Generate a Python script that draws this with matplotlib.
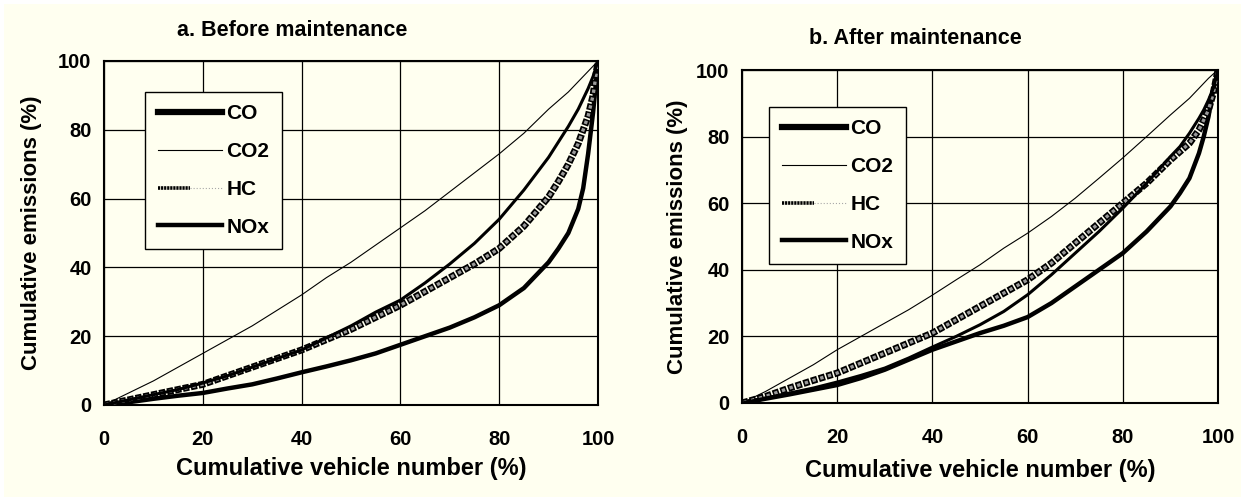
import matplotlib
matplotlib.use("Agg")
import matplotlib.pyplot as plt
from matplotlib.lines import Line2D
from matplotlib.legend_handler import HandlerTuple
from matplotlib.patches import Rectangle

plt.rcParams['font.family'] = ['Liberation Sans', 'DejaVu Sans']
plt.rcParams['font.weight'] = 'bold'
plt.rcParams['lines.scale_dashes'] = False

BG = '#fffff0'

# cumulative vehicle number (%)
x = [0, 5, 10, 15, 20, 25, 30, 35, 40, 45, 50, 55, 60, 65, 70, 75, 80, 85, 90,
     92, 94, 96, 97, 98, 99, 100]

# a. before maintenance - cumulative emissions (%)
co_before = [0, 0.8, 1.8, 2.7, 3.5, 4.8, 6, 7.7, 9.5, 11.2, 13, 15, 17.5, 20, 22.5,
             25.5, 29, 34, 41.5, 45.5, 50, 57, 63, 73, 85, 100]
co2_before = [0, 3.5, 7, 11, 15, 19, 23, 27.5, 32, 37, 41.5, 46.5, 51.5, 56.5, 62,
              67.5, 73, 79, 86, 88.5, 91, 94, 95.5, 97, 98.5, 100]
hc_before = [0, 1.5, 3, 4.5, 6, 8.5, 11, 13.5, 16, 19, 22, 25.5, 29, 33, 37, 41,
             45.5, 52, 60.5, 65, 70, 76, 80, 84, 90, 100]
nox_before = [0, 1.5, 3, 4.5, 6.4, 8.5, 11, 13.5, 16, 19.5, 23, 27, 30.5, 35.5, 41,
              47, 54, 62.5, 72, 76.5, 81, 86, 89, 92, 95.5, 100]

# b. after maintenance - cumulative emissions (%)
co_after = [0, 1.3, 2.6, 4, 5.4, 7.5, 10, 13, 16, 18.5, 21, 23.2, 25.8, 30, 35, 40,
            45, 51.5, 59, 63, 67.5, 75, 80, 86, 94, 100]
co2_after = [0, 3.5, 7.5, 11.5, 16, 20, 24, 28, 32.4, 37, 41.5, 46.5, 51, 56, 61.5,
             67.5, 73.6, 80, 86.5, 89, 91.5, 94.5, 96, 97.5, 98.8, 100]
hc_after = [0, 2, 4.5, 6.8, 9, 12, 15, 18, 21, 25, 29, 33, 37, 42, 48, 54, 60, 66,
            73, 75.5, 78, 82, 85, 88, 93, 100]
nox_after = [0, 1.5, 3, 4.5, 6.3, 8.3, 10.5, 13.5, 16.8, 20, 23.5, 27.5, 32.5, 38.5,
             45, 51.5, 58.5, 66, 74, 77, 81, 85.5, 88, 91, 94.5, 100]

ticks = [0, 20, 40, 60, 80, 100]

fig = plt.figure(figsize=(12.53, 4.97), dpi=100)
fig.patch.set_facecolor('white')
fig.patches.append(Rectangle((4 / 1253, 0), 1237 / 1253, 493 / 497,
                             transform=fig.transFigure, facecolor=BG,
                             edgecolor='none', zorder=-10))


def hc_layers(ax, xs, ys):
    # chain of small grey squares with black outline
    ax.plot(xs, ys, color='black', lw=5.0, linestyle=(0, (4.6, 1.2)),
            dash_capstyle='butt', zorder=3)
    ax.plot(xs, ys, color='#9a9a9a', lw=2.4, linestyle=(-1.1, (2.4, 3.4)),
            dash_capstyle='butt', zorder=4)


def panel(rect, co, co2, hc, nox, title, title_xy, ylab_x, xlab_y, leg_anchor):
    ax = fig.add_axes(rect)
    ax.set_facecolor(BG)
    ax.plot(x, co, color='black', lw=3.2, zorder=3)
    ax.plot(x, co2, color='black', lw=0.8, zorder=3)
    hc_layers(ax, x, hc)
    ax.plot(x, nox, color='black', lw=2.2, zorder=5)

    ax.set_xlim(0, 100)
    ax.set_ylim(0, 100)
    ax.set_xticks(ticks)
    ax.set_yticks(ticks)
    ax.grid(True, color='black', lw=0.9)
    ax.set_axisbelow(True)
    ax.tick_params(length=0, labelsize=14.5)
    ax.tick_params(axis='x', pad=18)
    ax.tick_params(axis='y', pad=9)
    for sp in ax.spines.values():
        sp.set_linewidth(1.5)

    fig.text(title_xy[0], title_xy[1], title, ha='center', va='center',
             fontsize=15.5, fontweight='bold')
    ax.set_xlabel('Cumulative vehicle number (%)', fontsize=17, fontweight='bold')
    ax.set_ylabel('Cumulative emissions (%)', fontsize=16, fontweight='bold')
    ax.xaxis.set_label_coords(0.5, xlab_y)
    ax.yaxis.set_label_coords(ylab_x, 0.5)

    h_co = Line2D([], [], color='black', lw=4.5)
    h_co2 = Line2D([], [], color='black', lw=0.8)
    h_hc = (Line2D([], [], color='black', lw=2.6, dashes=(1.6, 0.6)),
            Line2D([], [], color='#a8a8a8', lw=0.8, dashes=(0.8, 1.4)))
    h_nox = Line2D([], [], color='black', lw=3.2)
    leg = ax.legend([h_co, h_co2, h_hc, h_nox], ['CO', 'CO2', 'HC', 'NOx'],
                    handler_map={tuple: HandlerTuple(ndivide=None, pad=0)},
                    loc='upper left', bbox_to_anchor=leg_anchor,
                    fontsize=15, handlelength=3.1, labelspacing=0.9,
                    handletextpad=0.2, borderpad=0.6, borderaxespad=0,
                    fancybox=False, framealpha=1, facecolor=BG, edgecolor='black')
    leg.get_frame().set_linewidth(1.0)
    for t in leg.get_texts():
        t.set_fontweight('bold')
    return ax


panel([104 / 1253, 1 - 405 / 497, 494 / 1253, 344 / 497],
      co_before, co2_before, hc_before, nox_before,
      'a. Before maintenance', (292 / 1253, 1 - 30 / 497),
      -0.125, -0.151, (0.083, 0.91))
panel([742 / 1253, 1 - 403 / 497, 476 / 1253, 333 / 497],
      co_after, co2_after, hc_after, nox_after,
      'b. After maintenance', (915 / 1253, 1 - 38 / 497),
      -0.113, -0.168, (0.057, 0.889))

plt.savefig('out.png', dpi=100, facecolor=fig.get_facecolor())
